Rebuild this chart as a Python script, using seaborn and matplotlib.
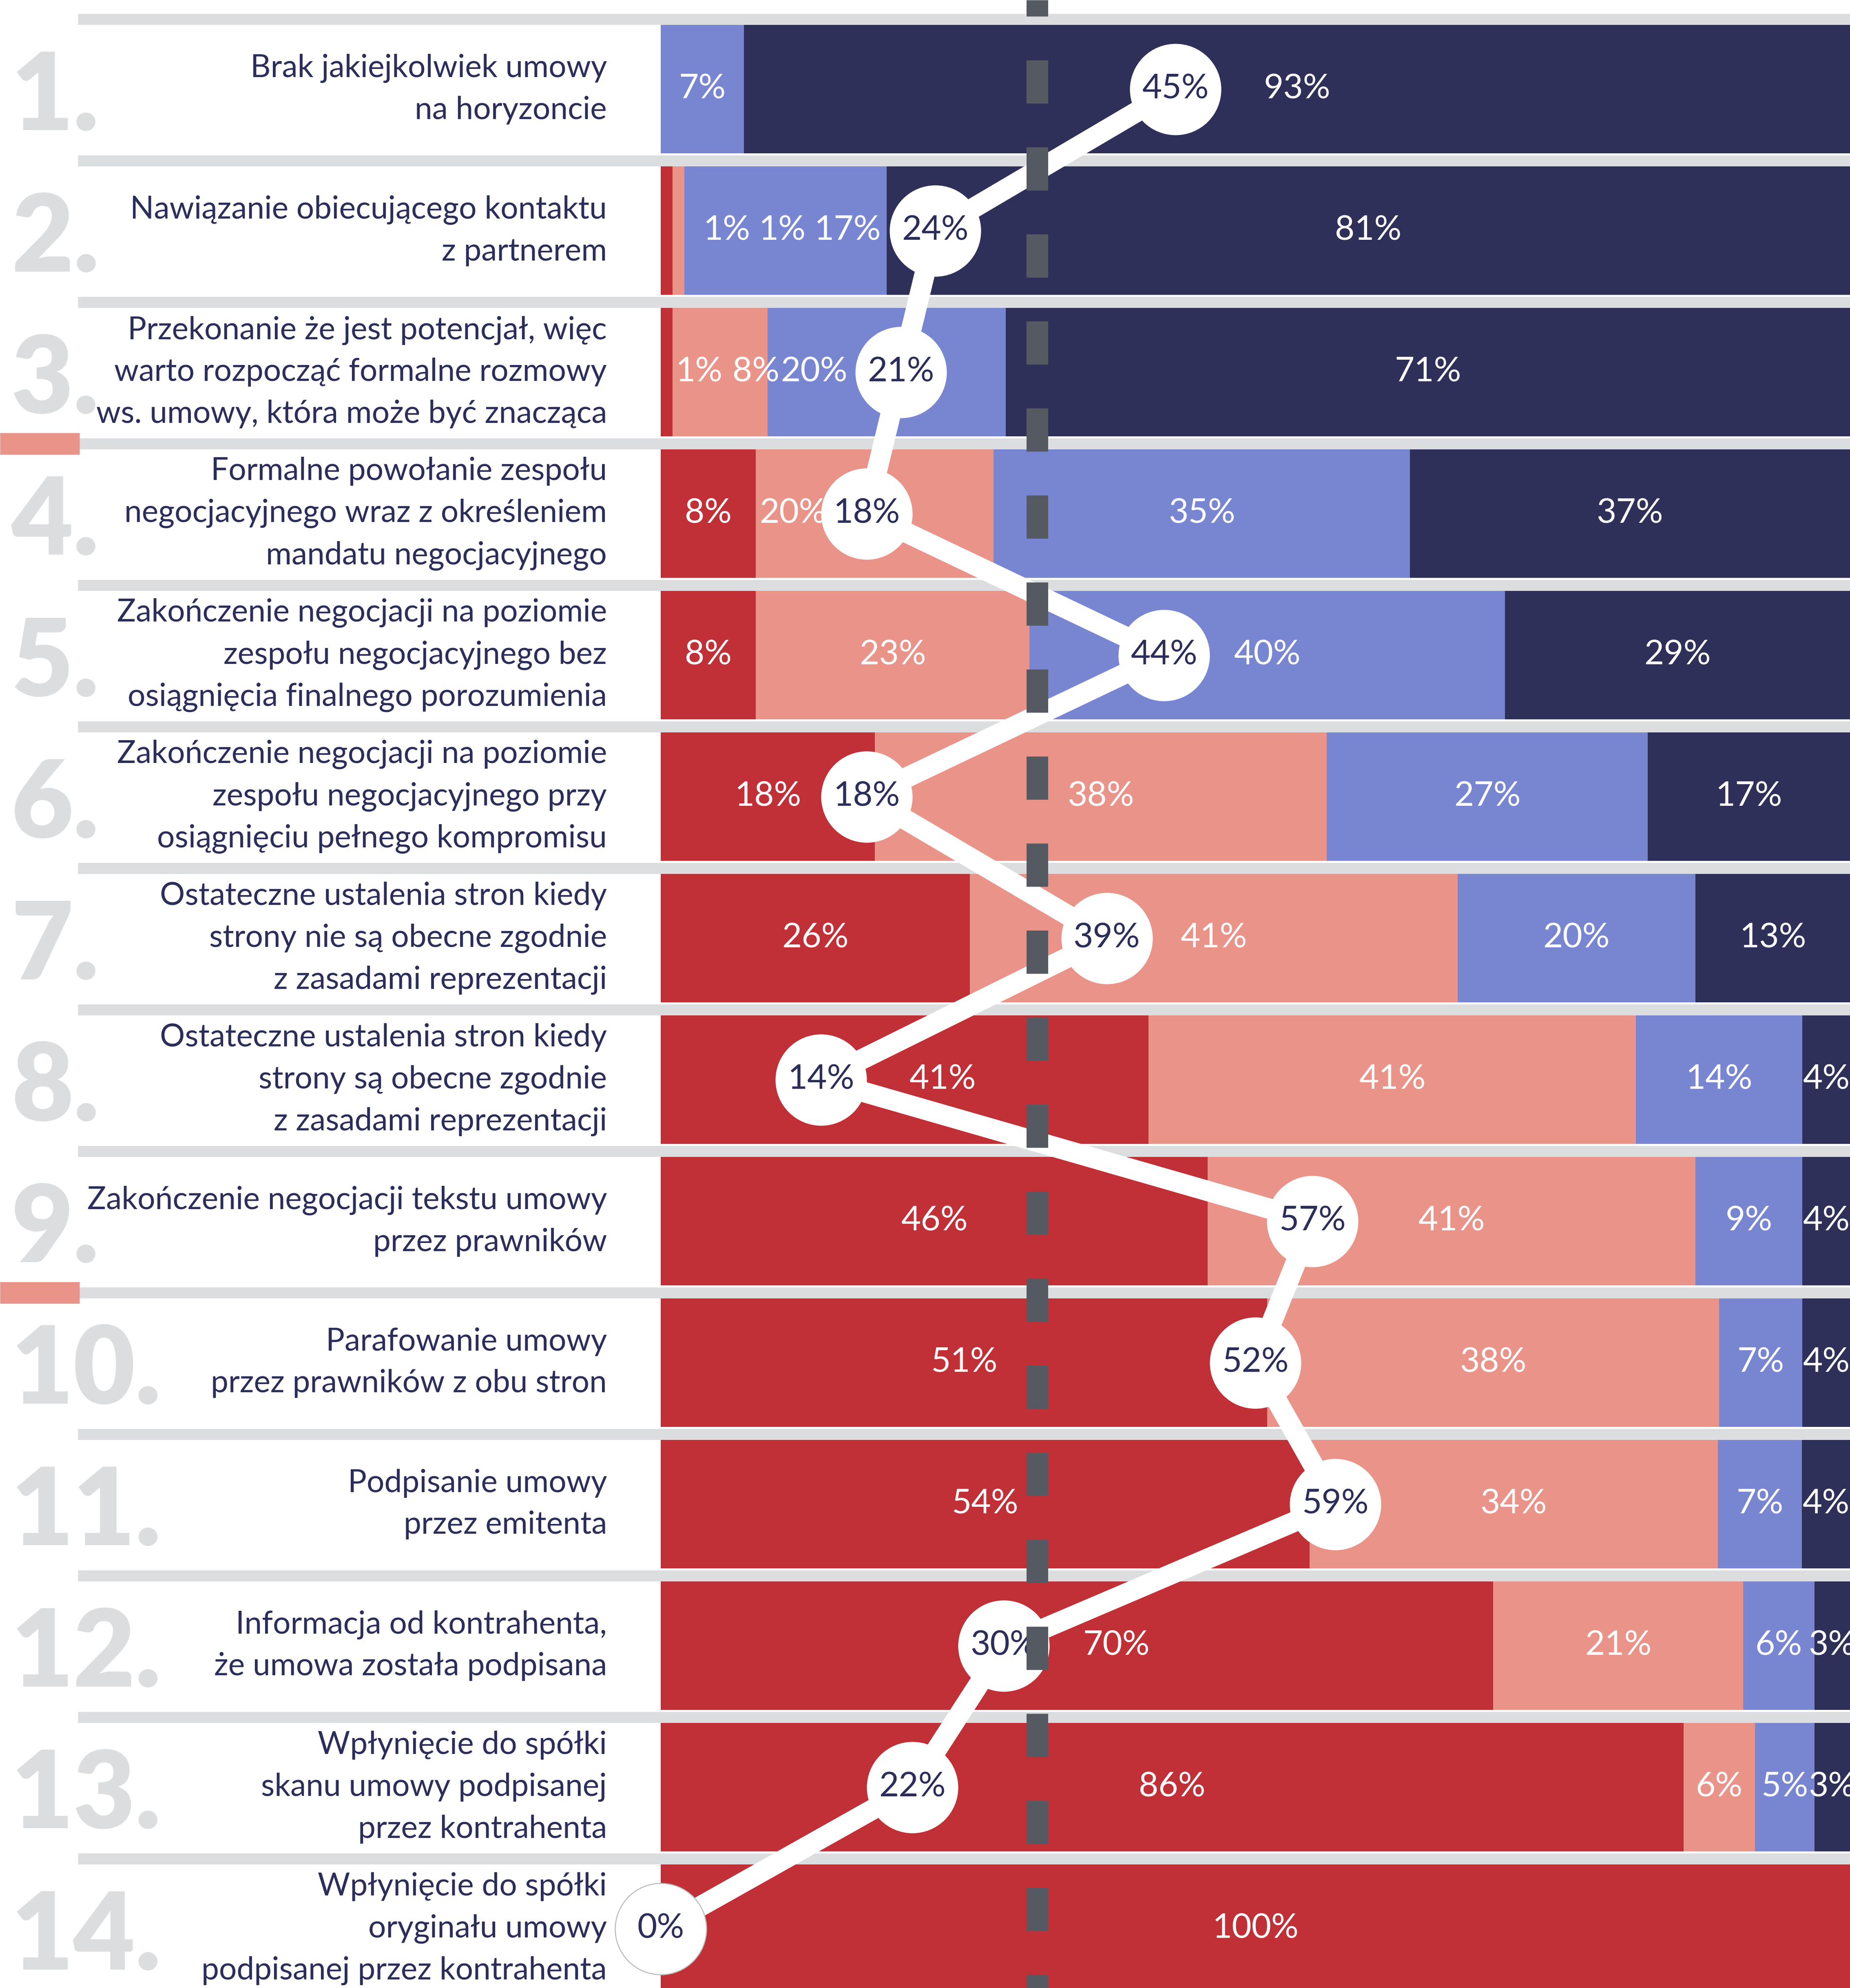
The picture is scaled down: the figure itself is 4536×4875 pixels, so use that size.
import numpy as np
import pandas as pd
import seaborn as sns
import matplotlib.pyplot as plt

steps = [
    "Brak jakiejkolwiek umowy\nna horyzoncie",
    "Nawiązanie obiecującego kontaktu\nz partnerem",
    "Przekonanie że jest potencjał, więc\nwarto rozpocząć formalne rozmowy\nws. umowy, która może być znacząca",
    "Formalne powołanie zespołu\nnegocjacyjnego wraz z określeniem\nmandatu negocjacyjnego",
    "Zakończenie negocjacji na poziomie\nzespołu negocjacyjnego bez\nosiągnięcia finalnego porozumienia",
    "Zakończenie negocjacji na poziomie\nzespołu negocjacyjnego przy\nosiągnięciu pełnego kompromisu",
    "Ostateczne ustalenia stron kiedy\nstrony nie są obecne zgodnie\nz zasadami reprezentacji",
    "Ostateczne ustalenia stron kiedy\nstrony są obecne zgodnie\nz zasadami reprezentacji",
    "Zakończenie negocjacji tekstu umowy\nprzez prawników",
    "Parafowanie umowy\nprzez prawników z obu stron",
    "Podpisanie umowy\nprzez emitenta",
    "Informacja od kontrahenta,\nże umowa została podpisana",
    "Wpłynięcie do spółki\nskanu umowy podpisanej\nprzez kontrahenta",
    "Wpłynięcie do spółki\noryginału umowy\npodpisanej przez kontrahenta",
]
ranks = [f"{i}." for i in range(1, 15)]

red = [0, 1, 1, 8, 8, 18, 26, 41, 46, 51, 54, 70, 86, 100]
salmon = [0, 1, 8, 20, 23, 38, 41, 41, 41, 38, 34, 21, 6, 0]
blue = [7, 17, 20, 35, 40, 27, 20, 14, 9, 7, 7, 6, 5, 0]
navy = [93, 81, 71, 37, 29, 17, 13, 4, 4, 4, 4, 3, 3, 0]
line_vals = [45, 24, 21, 18, 44, 18, 39, 14, 57, 52, 59, 30, 22, 0]

RED, SALMON, BLUE, NAVY = "#C03036", "#EA9389", "#7886D2", "#2F3059"
GREY = "#DCDDDF"
DASH = "#555A62"
INK = "#2B2D5A"

# pixel layout of the 4536x4875 canvas
DPI = 300
W, H = 4536, 4875
BAR_X0 = 1620                 # where 0% sits
BAR_PX = (W - BAR_X0) / 100   # px per point on the bars
LINE_PX = 28.04               # the white line runs on a slightly tighter scale
ROW_PX = 347
ROW0_PX = 218.5
PT = 72 / DPI


def xpos(px):
    return (px - BAR_X0) / BAR_PX


# label nudges (in bar %) where segments are too narrow or covered by a circle
nudge = {(1, 0): 5.05, (1, 1): 8.7, (1, 2): 5.2,
         (2, 0): 2.7, (2, 1): 3.0, (2, 2): -6.1,
         (3, 1): -6.9, (7, 0): 3.2, (11, 0): 3.3}

sns.set_style("white")
plt.rcParams["font.family"] = ["Lato", "DejaVu Sans"]

segs = ["red", "salmon", "blue", "navy"]
colors = [RED, SALMON, BLUE, NAVY]
df = pd.DataFrame({"step": [str(i + 1) for i in range(14)],
                   "red": red, "salmon": salmon, "blue": blue, "navy": navy})
shares = df[segs].div(df[segs].sum(axis=1), axis=0) * 100
cum = shares.cumsum(axis=1)
rows = np.arange(len(df))

fig = plt.figure(figsize=(W / DPI, H / DPI), dpi=DPI)
ax = fig.add_axes([0, 0, 1, 1])

# stacked bars: widest cumulative first, the narrower ones on top
for seg, color in zip(segs[::-1], colors[::-1]):
    sns.barplot(x=cum[seg], y=df["step"], orient="h", color=color,
                saturation=1, width=315 / ROW_PX, errorbar=None,
                linewidth=0, ax=ax)

top = -ROW0_PX / ROW_PX
bottom = (H - ROW0_PX) / ROW_PX
xlim = (xpos(0), xpos(W))

# separators and accents
ax.hlines(rows - 0.494, xpos(191), xlim[1], color=GREY, lw=27 * PT, zorder=1)
ax.hlines([3 - 0.494, 9 - 0.494], xlim[0], xpos(195), color=SALMON,
          lw=53 * PT, zorder=1)

for i in rows:
    ax.text(xpos(28), i + 100 / ROW_PX, ranks[i], ha="left", va="baseline",
            fontsize=63, fontweight="heavy", color=GREY)
    ax.text(xpos(1488), i, steps[i], ha="right", va="center",
            fontsize=18.4, color=INK, linespacing=1.55)
    start = 0
    for j, seg in enumerate(segs):
        w = shares.loc[i, seg]
        v = df.loc[i, seg]
        if v > 0:
            ax.text(start + w / 2 + nudge.get((i, j), 0), i, f"{v}%",
                    ha="center", va="center", fontsize=20, color="white",
                    zorder=4)
        start += w

ax.set_xlim(*xlim)
ax.set_ylim(bottom, top)
ax.axis("off")

ax2 = ax.twiny()
sns.lineplot(x=line_vals, y=rows, sort=False, estimator=None, color="white",
             linewidth=50 * PT, marker="o", markersize=224 * PT,
             markeredgewidth=0, ax=ax2, zorder=5)
# the circle that spills onto the white margin gets a faint rim
ax2.plot(line_vals[-1:], rows[-1:], ls="none", marker="o",
         markersize=224 * PT, mfc="white", mec="#BBBBBB", mew=0.6, zorder=5)
for i, v in enumerate(line_vals):
    ax2.text(v, i, f"{v}%", ha="center", va="center", fontsize=20,
             color=INK, zorder=6)

mean_x = np.mean(line_vals)
ax2.plot([mean_x, mean_x], [top, bottom], transform=ax.transData, color=DASH,
         lw=53 * PT, ls=(66 / 53, (106 / 53, 107.4 / 53)),
         dash_capstyle="butt", zorder=8)

ax2.set_xlim(-BAR_X0 / LINE_PX, (W - BAR_X0) / LINE_PX)
ax.set_ylim(bottom, top)
ax2.axis("off")

fig.savefig("out.png", dpi=DPI)
